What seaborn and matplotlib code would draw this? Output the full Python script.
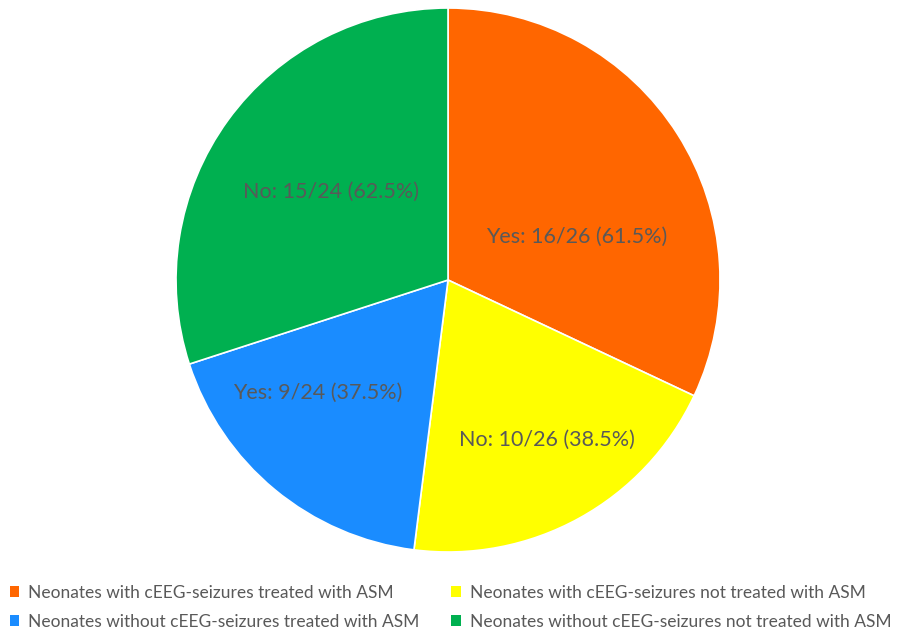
import matplotlib
matplotlib.use("Agg")
import matplotlib.pyplot as plt
from matplotlib.patches import Patch
import seaborn as sns

# Group sizes and their slice labels (clockwise from 12 o'clock)
groups = [
    "Neonates with cEEG-seizures treated with ASM",
    "Neonates with cEEG-seizures not treated with ASM",
    "Neonates without cEEG-seizures treated with ASM",
    "Neonates without cEEG-seizures not treated with ASM",
]
counts = [16, 10, 9, 15]
totals = [26, 26, 24, 24]
answers = ["Yes", "No", "Yes", "No"]
colors = ["#FF6600", "#FFFF00", "#1A8CFF", "#00B050"]

sns.set_theme(style="white")
plt.rcParams["font.family"] = ["Lato", "DejaVu Sans"]

fig = plt.figure(figsize=(8.99, 6.35), dpi=100)
ax = fig.add_axes([0.1958, 0.1307, 0.6051, 0.8567])

wedges, _ = ax.pie(
    counts,
    colors=colors,
    startangle=90,
    counterclock=False,
    wedgeprops=dict(edgecolor="white", linewidth=1.2),
)
ax.set_xlim(-1, 1)
ax.set_ylim(-1, 1)
ax.set_aspect("equal")

# label placement inside each slice (fraction of radius)
label_pos = [(0.474, 0.158), (0.364, -0.588), (-0.478, -0.415), (-0.430, 0.324)]
for ans, c, t, (lx, ly) in zip(answers, counts, totals, label_pos):
    ax.text(lx, ly, f"{ans}: {c}/{t} ({100 * c / t:.1f}%)",
            ha="center", va="center", fontsize=15.5, color="#595959")

handles = [Patch(facecolor=col, edgecolor="none") for col in colors]
# legend order: row-wise as in two columns
order = [0, 2, 1, 3]
fig.legend([handles[i] for i in order], [groups[i] for i in order],
           loc="lower left", bbox_to_anchor=(-0.0067, -0.016), ncol=2,
           frameon=False, fontsize=12.5, labelcolor="#595959",
           handlelength=0.55, handleheight=0.55, handletextpad=0.5,
           columnspacing=1.85, labelspacing=0.75)

fig.savefig("out.png", dpi=100, facecolor="white")
